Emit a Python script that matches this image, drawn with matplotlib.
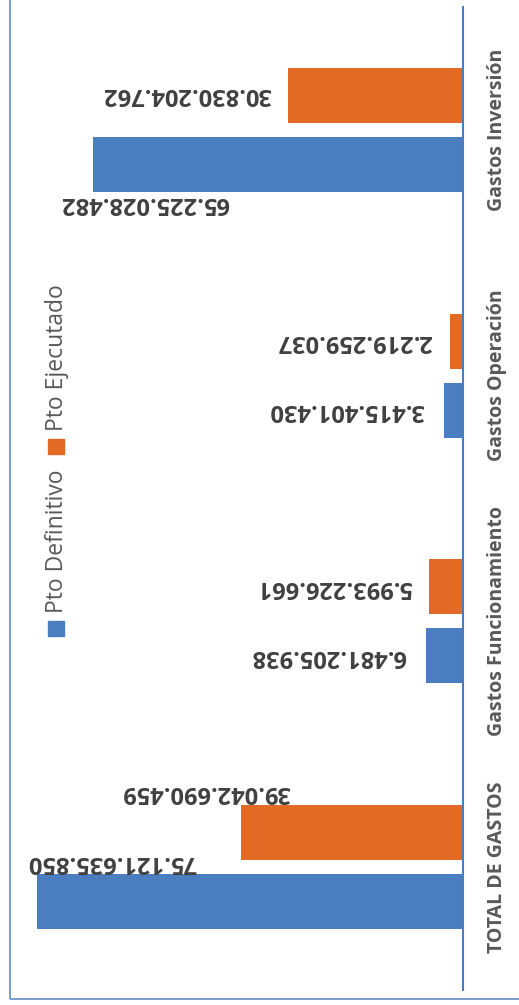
import matplotlib.pyplot as plt
from matplotlib.patches import Rectangle

categorias = ['TOTAL DE GASTOS', 'Gastos Funcionamiento', 'Gastos Operación', 'Gastos Inversión']
series = ['Pto Definitivo', 'Pto Ejecutado']
pto_definitivo = [75121635850, 6481205938, 3415401430, 65225028482]
pto_ejecutado = [39042690459, 5993226661, 2219259037, 30830204762]

# desplazamiento de cada etiqueta (pixeles) respecto al final de la barra
desp_definitivo = [(160, 40), (-20, 0), (-20, 0), (136, -39)]
desp_ejecutado = [(49, 41), (-18, 0), (-18, 0), (-17, 1)]

azul = '#4a7ec0'
naranja = '#e36a25'
gris = '#595959'

plt.rcParams['font.family'] = ['Open Sans', 'DejaVu Sans']

W, H = 519, 1005
fig = plt.figure(figsize=(W / 100, H / 100), dpi=100)
ax = fig.add_axes([9 / W, 15 / H, 454 / W, 983 / H])

y = list(range(len(categorias)))
alto = 0.224
sep = 0.14
b1 = ax.barh([v - sep for v in y], pto_definitivo, height=alto, color=azul, label=series[0])
b2 = ax.barh([v + sep for v in y], pto_ejecutado, height=alto, color=naranja, label=series[1])

def fmt(v):
    return f"{v:,}".replace(',', '.')

for barras, vals, desp in [(b1, pto_definitivo, desp_definitivo), (b2, pto_ejecutado, desp_ejecutado)]:
    for rect, v, (dx, dy) in zip(barras, vals, desp):
        yc = rect.get_y() + rect.get_height() / 2
        ax.annotate(fmt(v), (v, yc), xytext=(dx, dy), textcoords='offset pixels',
                    ha='right', va='center', rotation=180, fontsize=17,
                    fontweight='bold', color='#404040')

ax.set_xlim(80e9, 0)
ax.set_ylim(-0.5, len(categorias) - 0.5)
ax.set_xticks([])
ax.set_yticks(y)
ax.set_yticklabels(categorias, rotation=90, va='center', fontsize=14,
                   fontweight='bold', color=gris)
ax.yaxis.tick_right()
ax.tick_params(axis='y', length=0, pad=17)
for s in ['left', 'top', 'bottom']:
    ax.spines[s].set_visible(False)
ax.spines['right'].set_color('#4a7ebb')
ax.spines['right'].set_linewidth(1.5)
ax.patch.set_visible(False)

# leyenda vertical
for i, (nombre, col) in enumerate(zip(series, [azul, naranja])):
    y0 = [636, 454][i]
    fig.patches.append(Rectangle((48 / W, 1 - y0 / H), 16 / W, 15 / H,
                                 transform=fig.transFigure, color=col))
    fig.text(57 / W, 1 - (y0 - 23) / H, nombre, rotation=90, ha='center', va='bottom',
             fontsize=16.5, color=gris)

# borde del grafico
fig.patches.append(Rectangle((10 / W, 6 / H), 1.0, 1.0, transform=fig.transFigure,
                             fill=False, edgecolor='#6c95cb', linewidth=1.3))

fig.savefig('out.png', dpi=100)
